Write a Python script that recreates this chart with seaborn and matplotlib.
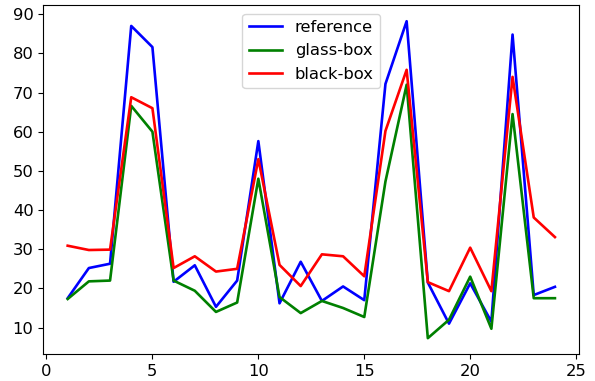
import matplotlib
matplotlib.use("Agg")
import matplotlib.pyplot as plt
import seaborn as sns
import pandas as pd

x = list(range(1, 25))
reference = [17.5, 25.2, 26.3, 87.0, 81.6, 21.7, 25.9, 15.3, 22.0, 57.6, 16.2, 26.8,
             16.8, 20.5, 17.0, 72.2, 88.2, 21.5, 11.0, 21.3, 11.5, 84.8, 18.3, 20.4]
glass_box = [17.3, 21.8, 22.0, 66.6, 60.0, 22.0, 19.4, 14.0, 16.4, 48.0, 17.8, 13.7,
             16.8, 15.0, 12.7, 47.3, 72.0, 7.3, 12.0, 23.0, 9.7, 64.5, 17.5, 17.5]
black_box = [30.9, 29.8, 29.9, 68.8, 66.0, 25.2, 28.2, 24.3, 25.0, 53.0, 26.0, 20.6,
             28.7, 28.2, 23.1, 60.2, 75.8, 21.6, 19.3, 30.4, 19.3, 74.0, 38.1, 33.1]
labels = ["reference", "glass-box", "black-box"]
colors = ["blue", "green", "red"]

fig = plt.figure(figsize=(5.95, 3.81), dpi=100)
ax = fig.add_axes([0.0728, 0.0709, 0.9008, 0.915])

for lab, vals, col in zip(labels, [reference, glass_box, black_box], colors):
    df = pd.DataFrame({"x": x, "y": vals})
    sns.lineplot(data=df, x="x", y="y", ax=ax, color=col, label=lab, linewidth=1.9)

ax.set_xlim(-0.15, 25.15)
ax.set_ylim(3.26, 92.25)
ax.set_xticks([0, 5, 10, 15, 20, 25])
ax.set_yticks([10, 20, 30, 40, 50, 60, 70, 80, 90])
ax.set_xlabel("")
ax.set_ylabel("")
ax.tick_params(labelsize=11.8)
ax.legend(loc="upper center", fontsize=11.8)

fig.savefig("out.png", dpi=100)
